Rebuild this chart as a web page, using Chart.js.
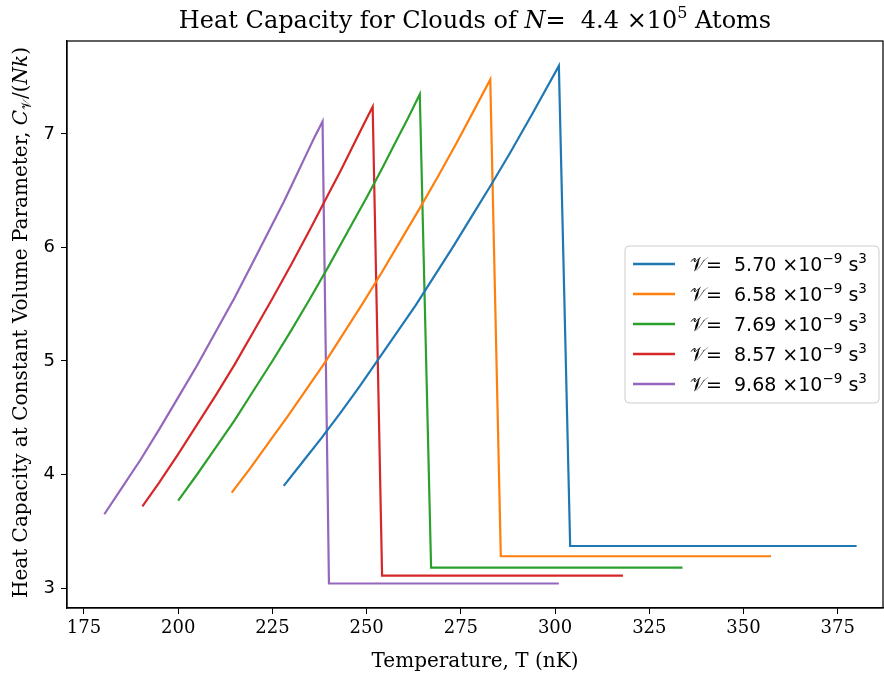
<!DOCTYPE html>
<html>
<head>
<meta charset="utf-8">
<script src="https://cdn.jsdelivr.net/npm/chart.js@4.4.0/dist/chart.umd.min.js"></script>
<style>
  html, body { margin: 0; padding: 0; background: #fff; }
  #wrap { width: 884px; height: 673px; }
</style>
</head>
<body>
<div id="wrap"><canvas id="cvChart" width="884" height="673"></canvas></div>
<script>
// volume parameters (x10^-9 s^3), one curve each
const volumes = ['5.70', '6.58', '7.69', '8.57', '9.68'];
const colors = ['#1f77b4', '#ff7f0e', '#2ca02c', '#d62728', '#9467bd'];

// temperatures (nK) and heat capacity values
const temp570 = [228, 233, 238, 243, 248, 253, 258, 263, 268, 273, 278, 283, 288, 294, 301, 304, 380];
const cv570   = [3.90, 4.11, 4.32, 4.54, 4.77, 5.01, 5.25, 5.49, 5.75, 6.01, 6.28, 6.55, 6.83, 7.18, 7.60, 3.37, 3.37];

const temp658 = [214.2, 219, 224, 229, 234, 239, 244, 249, 254, 259, 264, 269, 274, 278.5, 282.8, 285.6, 357.3];
const cv658   = [3.84, 4.05, 4.28, 4.51, 4.75, 4.99, 5.25, 5.51, 5.78, 6.06, 6.34, 6.63, 6.93, 7.21, 7.48, 3.28, 3.28];

const temp769 = [200, 205, 210, 215, 220, 225, 230, 235, 240, 245, 250, 254, 258, 261, 264.1, 267.1, 333.8];
const cv769   = [3.77, 4.00, 4.24, 4.48, 4.74, 5.00, 5.27, 5.55, 5.84, 6.14, 6.44, 6.69, 6.95, 7.14, 7.35, 3.18, 3.18];

const temp857 = [190.5, 195, 200, 205, 210, 215, 220, 225, 230, 235, 240, 243, 246, 249, 251.6, 254.1, 318];
const cv857   = [3.72, 3.93, 4.18, 4.44, 4.70, 4.97, 5.26, 5.55, 5.85, 6.16, 6.48, 6.67, 6.87, 7.07, 7.24, 3.11, 3.11];

const temp968 = [180.4, 185, 190, 195, 200, 205, 210, 215, 220, 224, 228, 231, 234, 236, 238.3, 240.0, 301];
const cv968   = [3.65, 3.88, 4.13, 4.40, 4.68, 4.96, 5.26, 5.56, 5.88, 6.14, 6.40, 6.61, 6.82, 6.96, 7.11, 3.04, 3.04];

const xTicks = [175, 200, 225, 250, 275, 300, 325, 350, 375];
const yTicks = [3, 4, 5, 6, 7];

const temps = [temp570, temp658, temp769, temp857, temp968];
const cvs = [cv570, cv658, cv769, cv857, cv968];

const SERIF = '"DejaVu Serif", serif';
const SANS = '"DejaVu Sans", sans-serif';

function drawParts(ctx, parts, x, y, align) {
  let w = 0;
  parts.forEach(p => { ctx.font = p[1]; w += ctx.measureText(p[0]).width; });
  let cx = align === 'center' ? x - w / 2 : x;
  parts.forEach(p => {
    ctx.font = p[1];
    ctx.fillText(p[0], cx, y + (p[2] || 0));
    cx += ctx.measureText(p[0]).width;
  });
}

const decorations = {
  id: 'decorations',
  afterDraw(chart) {
    const ctx = chart.ctx;
    const a = chart.chartArea;
    ctx.save();
    // frame top and right
    ctx.strokeStyle = '#000';
    ctx.lineWidth = 1.25;
    ctx.strokeRect(a.left, a.top, a.right - a.left, a.bottom - a.top);

    ctx.fillStyle = '#000';
    ctx.textBaseline = 'alphabetic';
    // title
    drawParts(ctx, [
      ['Heat Capacity for Clouds of ', '24px ' + SERIF],
      ['N', 'italic 24px ' + SERIF],
      ['=  4.4 ×10', '24px ' + SERIF],
      ['5', '16px ' + SERIF, -10],
      [' Atoms', '24px ' + SERIF]
    ], (a.left + a.right) / 2, 28, 'center');

    // x label
    drawParts(ctx, [['Temperature, T (nK)', '20px ' + SERIF]], (a.left + a.right) / 2, 667, 'center');

    // y label
    ctx.save();
    ctx.translate(27, (a.top + a.bottom) / 2 - 2);
    ctx.rotate(-Math.PI / 2);
    drawParts(ctx, [
      ['Heat Capacity at Constant Volume Parameter, ', '20px ' + SERIF],
      ['C', 'italic 20px ' + SERIF],
      ['𝒱', '13px ' + SERIF, 4],
      ['/(', '20px ' + SERIF],
      ['Nk', 'italic 20px ' + SERIF],
      [')', '20px ' + SERIF]
    ], 0, 0, 'center');
    ctx.restore();

    // legend
    const bx = 625, by = 246, bw = 254, bh = 157;
    ctx.beginPath();
    ctx.roundRect(bx, by, bw, bh, 4);
    ctx.fillStyle = 'rgba(255,255,255,0.8)';
    ctx.fill();
    ctx.strokeStyle = '#cccccc';
    ctx.lineWidth = 1;
    ctx.stroke();
    chart.data.datasets.forEach((ds, i) => {
      const ry = 264 + i * 30;
      ctx.strokeStyle = ds.borderColor;
      ctx.lineWidth = 2.5;
      ctx.beginPath();
      ctx.moveTo(633, ry);
      ctx.lineTo(675, ry);
      ctx.stroke();
      ctx.fillStyle = '#000';
      drawParts(ctx, [
        ['𝒱', '19px ' + SANS],
        ['=  ' + volumes[i] + ' ×10', '19px ' + SANS],
        ['−9', '13.5px ' + SANS, -8],
        [' s', '19px ' + SANS],
        ['3', '13.5px ' + SANS, -8]
      ], 690, ry + 7, 'left');
    });
    ctx.restore();
  }
};

const datasets = temps.map((t, i) => ({
  label: volumes[i],
  data: t.map((x, j) => ({ x: x, y: cvs[i][j] })),
  borderColor: colors[i],
  backgroundColor: colors[i],
  borderWidth: 2.2,
  pointRadius: 0,
  showLine: true,
  tension: 0
}));

const ctx = document.getElementById('cvChart').getContext('2d');
const cvChart = new Chart(ctx, {
  type: 'scatter',
  data: { datasets: datasets },
  options: {
    responsive: false,
    animation: false,
    devicePixelRatio: 1,
    layout: { padding: { top: 41, right: 1, left: 0, bottom: 0 } },
    plugins: {
      legend: { display: false },
      tooltip: { enabled: false }
    },
    scales: {
      x: {
        type: 'linear',
        min: 170.5,
        max: 387,
        afterFit: s => { s.height = 65; },
        afterBuildTicks: s => { s.ticks = xTicks.map(v => ({ value: v })); },
        grid: { drawOnChartArea: false, drawTicks: true, tickLength: 6, color: '#000', lineWidth: 1 },
        border: { display: true, color: '#000', width: 1.25 },
        ticks: { color: '#000', font: { family: 'DejaVu Serif', size: 18 }, padding: 4, maxRotation: 0 }
      },
      y: {
        type: 'linear',
        min: 2.824,
        max: 7.819,
        afterFit: s => { s.width = 67; },
        afterBuildTicks: s => { s.ticks = yTicks.map(v => ({ value: v })); },
        grid: { drawOnChartArea: false, drawTicks: true, tickLength: 6, color: '#000', lineWidth: 1 },
        border: { display: true, color: '#000', width: 1.25 },
        ticks: { color: '#000', font: { family: 'DejaVu Sans', size: 18 }, padding: 6 }
      }
    }
  },
  plugins: [decorations]
});
</script>
</body>
</html>
